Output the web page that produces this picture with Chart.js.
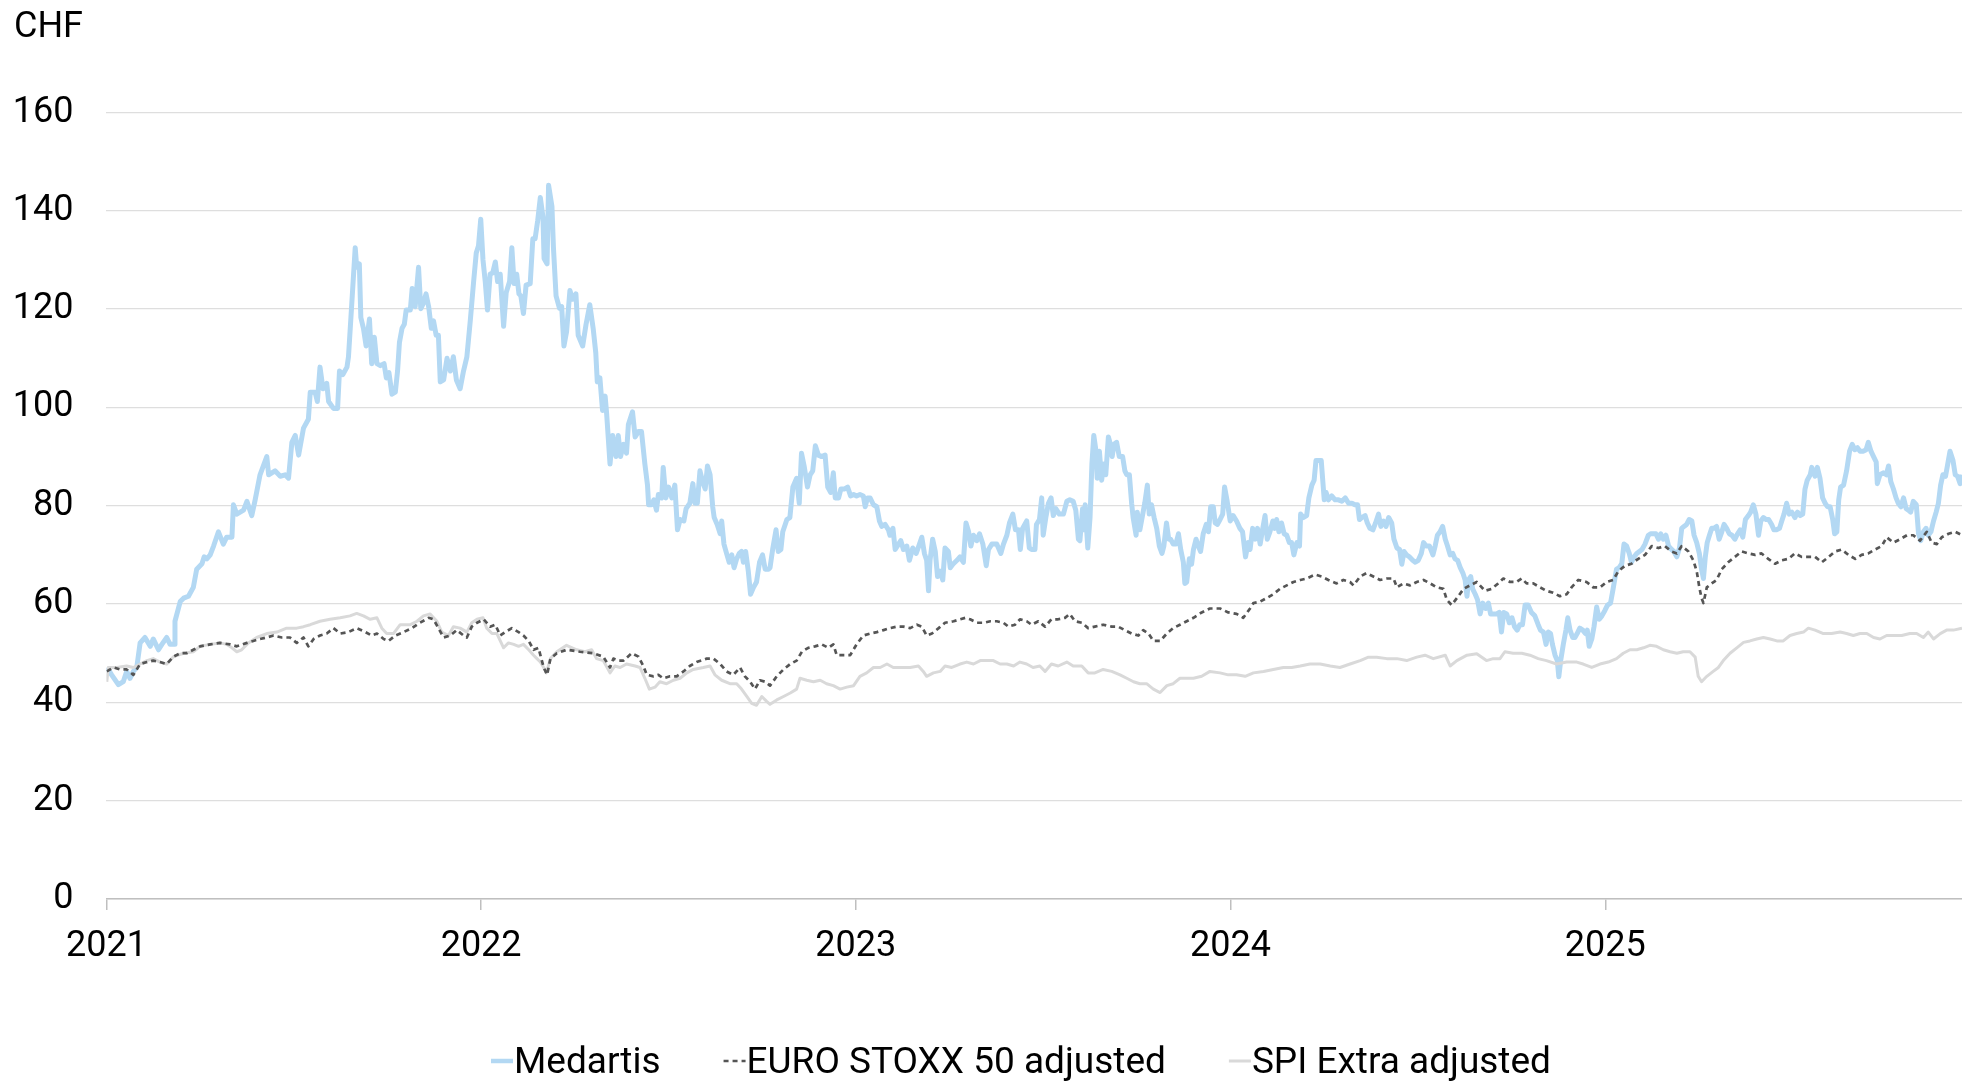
<!DOCTYPE html>
<html><head><meta charset="utf-8">
<script src="https://cdn.jsdelivr.net/npm/chart.js@4.4.1/dist/chart.umd.min.js"></script>
<style>html,body{margin:0;padding:0;background:#fff;overflow:hidden}canvas{display:block}</style>
</head><body>
<canvas id="c" width="1962" height="1081"></canvas>
<script>
const seriesNames = ['Medartis', 'EURO STOXX 50 adjusted', 'SPI Extra adjusted'];
const unitLabel = 'CHF';
const yMin = 0, yMax = 160, yStep = 20;
const xStart = 2021, xEnd = 2025.952;

// [decimal year, CHF]
const medartis = [
[2021.001,46.3],[2021.005,46.7],[2021.014,45.6],[2021.032,43.6],[2021.045,44.2],[2021.054,46.3],[2021.063,44.9],[2021.072,46.3],[2021.081,47.1],[2021.090,52.1],[2021.103,53.2],[2021.117,51.4],[2021.125,52.9],[2021.139,50.7],[2021.148,51.8],[2021.161,53.2],[2021.170,51.8],[2021.181,51.8],[2021.183,56.5],[2021.197,60.5],[2021.206,61.2],[2021.219,61.6],[2021.232,63.4],[2021.241,67.1],[2021.255,68.2],[2021.261,69.6],[2021.268,69.2],[2021.277,70.0],[2021.286,71.8],[2021.299,74.7],[2021.312,72.2],[2021.321,73.6],[2021.335,73.6],[2021.339,80.2],[2021.348,78.3],[2021.366,79.1],[2021.375,80.9],[2021.388,78.0],[2021.397,81.2],[2021.410,86.3],[2021.428,90.0],[2021.433,86.3],[2021.450,87.1],[2021.464,86.0],[2021.477,86.3],[2021.486,85.6],[2021.495,92.9],[2021.504,94.3],[2021.513,90.3],[2021.526,95.8],[2021.539,97.6],[2021.544,103.1],[2021.557,103.1],[2021.563,101.2],[2021.570,108.2],[2021.578,103.8],[2021.588,104.9],[2021.593,101.2],[2021.606,99.8],[2021.617,99.8],[2021.622,107.4],[2021.631,106.7],[2021.642,108.2],[2021.646,110.3],[2021.652,117.6],[2021.659,126.3],[2021.664,132.5],[2021.668,128.5],[2021.675,129.2],[2021.679,118.3],[2021.686,116.1],[2021.693,112.5],[2021.702,118.0],[2021.708,108.9],[2021.715,114.3],[2021.722,108.9],[2021.731,108.5],[2021.741,108.9],[2021.747,106.0],[2021.754,107.1],[2021.762,102.7],[2021.771,103.1],[2021.777,107.4],[2021.782,113.2],[2021.789,116.1],[2021.795,116.9],[2021.800,119.8],[2021.811,119.8],[2021.816,124.2],[2021.824,120.5],[2021.833,128.5],[2021.839,120.1],[2021.846,121.2],[2021.853,123.1],[2021.860,120.5],[2021.867,116.1],[2021.873,117.6],[2021.880,114.7],[2021.886,114.7],[2021.891,105.2],[2021.900,105.6],[2021.909,110.0],[2021.918,107.4],[2021.926,110.3],[2021.934,105.6],[2021.944,103.8],[2021.953,107.4],[2021.962,110.3],[2021.971,117.6],[2021.980,125.6],[2021.987,131.4],[2021.993,132.9],[2021.999,138.3],[2022.005,130.0],[2022.011,125.6],[2022.017,119.8],[2022.024,127.1],[2022.031,127.4],[2022.038,129.6],[2022.044,125.6],[2022.051,127.1],[2022.060,116.5],[2022.067,123.4],[2022.076,125.6],[2022.082,132.5],[2022.088,125.2],[2022.095,127.1],[2022.101,123.1],[2022.106,122.7],[2022.113,119.1],[2022.120,124.9],[2022.131,125.2],[2022.138,134.3],[2022.144,134.3],[2022.151,138.0],[2022.158,142.7],[2022.165,138.7],[2022.168,130.3],[2022.176,129.2],[2022.180,145.2],[2022.189,140.9],[2022.193,132.5],[2022.200,122.7],[2022.209,120.2],
[2022.215,120.5],[2022.221,112.5],[2022.228,115.4],[2022.237,123.8],[2022.244,122.0],[2022.253,123.1],[2022.259,114.7],[2022.271,112.5],[2022.280,116.9],[2022.290,120.9],[2022.299,116.1],[2022.306,111.1],[2022.310,105.2],[2022.317,106.0],[2022.324,99.4],[2022.331,102.3],[2022.335,98.7],[2022.344,88.5],[2022.351,94.3],[2022.360,90.0],[2022.366,94.3],[2022.372,90.0],[2022.380,92.5],[2022.388,90.7],[2022.393,96.5],[2022.404,99.1],[2022.411,94.0],[2022.420,95.1],[2022.428,95.1],[2022.437,88.5],[2022.444,84.2],[2022.447,80.2],[2022.455,80.2],[2022.461,81.2],[2022.468,79.1],[2022.473,82.3],[2022.482,81.6],[2022.486,87.8],[2022.493,81.6],[2022.500,83.8],[2022.509,81.6],[2022.517,84.2],[2022.524,75.1],[2022.531,77.2],[2022.541,76.9],[2022.547,79.4],[2022.557,80.5],[2022.565,84.5],[2022.571,80.5],[2022.577,80.5],[2022.584,87.1],[2022.591,84.9],[2022.598,83.4],[2022.604,88.1],[2022.611,86.3],[2022.618,79.8],[2022.622,77.6],[2022.630,76.2],[2022.638,74.3],[2022.642,76.9],[2022.648,72.2],[2022.655,70.3],[2022.662,68.5],[2022.669,70.0],[2022.675,67.4],[2022.682,69.2],[2022.689,70.3],[2022.695,70.7],[2022.700,68.5],[2022.706,70.7],[2022.713,66.7],[2022.719,62.0],[2022.727,63.4],[2022.735,64.5],[2022.743,68.5],[2022.751,70.0],[2022.758,67.1],[2022.767,67.1],[2022.771,67.4],[2022.778,71.1],[2022.787,75.1],[2022.793,70.7],[2022.800,71.1],[2022.805,74.7],[2022.816,77.2],[2022.824,77.6],[2022.832,83.8],[2022.842,85.6],[2022.849,80.5],[2022.855,90.7],[2022.862,88.1],[2022.871,83.8],[2022.878,86.3],[2022.885,87.1],[2022.892,92.2],[2022.900,90.3],[2022.909,90.0],[2022.918,90.3],[2022.925,83.8],[2022.933,82.7],[2022.940,86.7],[2022.945,81.6],[2022.954,81.6],[2022.960,83.4],[2022.969,83.4],[2022.978,83.8],[2022.986,82.0],[2022.994,82.3],[2023.002,82.0],[2023.011,82.3],[2023.020,82.0],[2023.025,79.8],[2023.031,81.6],[2023.038,81.6],[2023.047,80.2],[2023.056,79.8],[2023.063,76.9],[2023.069,75.8],[2023.078,76.2],[2023.087,75.1],[2023.091,74.0],[2023.099,75.4],[2023.105,71.1],[2023.114,72.2],[2023.120,72.9],[2023.127,71.1],[2023.136,71.8],[2023.143,68.9],[2023.152,71.4],[2023.161,70.3],[2023.168,71.8],[2023.176,73.6],[2023.183,70.3],[2023.189,68.9],[2023.194,62.7],[2023.198,68.9],[2023.205,73.2],[2023.212,70.7],[2023.218,65.6],[2023.225,66.7],[2023.232,64.9],[2023.238,71.4],[2023.247,70.7],[2023.252,67.4],[2023.259,68.1],[2023.270,68.9],[2023.278,69.6],[2023.287,68.5],[2023.294,76.5],[2023.301,74.7],[2023.307,71.8],[2023.314,74.0],[2023.323,72.9],[2023.330,74.3],[2023.339,72.2],[2023.348,67.8],[2023.354,71.1],[2023.363,72.2],[2023.376,72.2],[2023.387,70.3],[2023.394,72.2],[2023.403,74.0],[2023.410,76.5],[2023.419,78.3],[2023.426,75.1],[2023.434,75.1],[2023.439,71.1],
[2023.445,75.4],[2023.456,76.9],[2023.463,71.4],[2023.469,71.1],[2023.478,71.1],[2023.482,76.2],[2023.490,77.2],[2023.496,81.6],[2023.500,74.0],[2023.507,77.6],[2023.514,80.5],[2023.521,81.6],[2023.527,78.0],[2023.534,79.4],[2023.543,78.3],[2023.554,78.3],[2023.563,80.9],[2023.571,81.2],[2023.580,80.9],[2023.587,79.1],[2023.594,73.2],[2023.598,72.9],[2023.605,79.4],[2023.609,75.1],[2023.612,80.2],[2023.619,71.4],[2023.625,77.6],[2023.630,88.5],[2023.635,94.3],[2023.641,91.1],[2023.644,85.6],[2023.650,91.1],[2023.656,85.2],[2023.662,88.5],[2023.667,86.3],[2023.674,94.0],[2023.678,92.9],[2023.684,90.0],[2023.689,92.5],[2023.696,92.9],[2023.703,90.0],[2023.712,90.0],[2023.718,87.1],[2023.723,86.3],[2023.730,86.3],[2023.736,80.5],[2023.740,77.6],[2023.748,74.0],[2023.751,78.7],[2023.758,75.1],[2023.764,77.6],[2023.771,80.5],[2023.778,84.2],[2023.783,78.3],[2023.789,80.2],[2023.796,77.6],[2023.803,75.4],[2023.810,71.8],[2023.817,70.3],[2023.822,71.8],[2023.829,76.5],[2023.835,73.2],[2023.840,73.2],[2023.847,72.2],[2023.854,72.2],[2023.861,74.3],[2023.867,71.1],[2023.874,68.5],[2023.878,64.2],[2023.883,64.5],[2023.890,69.2],[2023.896,68.1],[2023.901,71.1],[2023.908,73.2],[2023.914,71.8],[2023.920,70.7],[2023.927,74.3],[2023.935,76.2],[2023.941,74.7],[2023.947,79.8],[2023.954,79.8],[2023.959,76.5],[2023.965,76.2],[2023.972,77.2],[2023.979,78.3],[2023.984,83.8],[2023.991,80.9],[2023.999,76.9],[2024.007,78.0],[2024.016,76.9],[2024.025,75.4],[2024.032,74.7],[2024.040,69.6],[2024.047,72.5],[2024.052,71.1],[2024.059,75.4],[2024.066,73.2],[2024.072,75.4],[2024.079,72.2],[2024.086,75.4],[2024.092,78.0],[2024.098,73.2],[2024.105,74.7],[2024.113,76.9],[2024.118,75.4],[2024.123,77.2],[2024.129,74.7],[2024.136,76.5],[2024.143,74.3],[2024.150,74.0],[2024.157,72.5],[2024.163,72.5],[2024.169,70.0],[2024.177,72.5],[2024.184,71.8],[2024.187,78.3],[2024.194,77.6],[2024.203,78.0],[2024.209,81.6],[2024.217,84.2],[2024.223,85.2],[2024.228,89.2],[2024.234,89.2],[2024.242,89.2],[2024.250,81.2],[2024.255,82.7],[2024.261,81.2],[2024.270,82.0],[2024.279,81.2],[2024.288,81.2],[2024.297,80.9],[2024.306,81.6],[2024.315,80.5],[2024.324,80.5],[2024.332,80.2],[2024.339,80.2],[2024.344,77.2],[2024.350,77.6],[2024.359,78.0],[2024.365,76.5],[2024.372,75.4],[2024.380,75.1],[2024.387,76.5],[2024.395,78.3],[2024.401,75.8],[2024.408,76.9],[2024.415,75.8],[2024.422,77.6],[2024.430,76.5],[2024.436,73.2],[2024.444,71.4],[2024.451,71.1],[2024.457,68.1],[2024.463,70.7],[2024.470,70.0],[2024.477,69.6],[2024.486,68.9],[2024.493,68.5],[2024.501,68.9],[2024.509,70.3],[2024.515,72.5],[2024.522,71.8],[2024.531,71.8],[2024.540,70.0],[2024.546,71.8],[2024.552,74.0],[2024.559,74.7],[2024.566,75.8],[2024.573,73.2],[2024.579,71.8],[2024.586,70.0],[2024.593,70.3],[2024.599,69.2],[2024.606,68.9],[2024.613,67.4],[2024.620,66.3],[2024.626,64.9],[2024.631,61.6],[2024.635,64.9],[2024.641,65.6],[2024.646,63.1],[2024.653,62.0],[2024.659,60.9],[2024.666,58.0],
[2024.673,60.2],[2024.681,59.1],[2024.688,60.2],[2024.694,58.0],[2024.701,58.0],[2024.710,58.0],[2024.717,58.3],[2024.723,54.3],[2024.729,58.3],[2024.737,58.0],[2024.744,56.2],[2024.751,57.2],[2024.758,55.4],[2024.765,54.7],[2024.772,55.8],[2024.779,55.8],[2024.786,59.8],[2024.794,59.8],[2024.803,58.3],[2024.812,57.6],[2024.821,55.8],[2024.827,54.7],[2024.835,54.3],[2024.842,51.8],[2024.848,54.3],[2024.854,54.0],[2024.859,51.8],[2024.866,49.6],[2024.872,48.5],[2024.876,45.2],[2024.881,48.5],[2024.888,51.8],[2024.895,54.7],[2024.900,57.2],[2024.906,54.7],[2024.913,53.2],[2024.919,53.2],[2024.925,54.0],[2024.932,55.1],[2024.940,54.7],[2024.947,54.0],[2024.952,54.7],[2024.957,51.4],[2024.964,52.9],[2024.970,55.4],[2024.977,59.4],[2024.984,56.9],[2024.991,57.6],[2024.999,58.7],[2025.006,59.8],[2025.014,60.2],[2025.021,63.1],[2025.030,67.1],[2025.037,67.4],[2025.044,68.2],[2025.050,72.2],[2025.057,71.8],[2025.064,70.3],[2025.070,68.5],[2025.077,69.6],[2025.084,70.3],[2025.091,70.7],[2025.098,71.1],[2025.106,72.2],[2025.115,74.0],[2025.121,74.3],[2025.128,74.3],[2025.135,74.3],[2025.142,73.2],[2025.148,74.3],[2025.155,73.2],[2025.162,74.0],[2025.169,71.8],[2025.177,71.1],[2025.183,70.7],[2025.191,69.6],[2025.198,71.4],[2025.204,75.4],[2025.210,75.8],[2025.217,76.2],[2025.224,77.2],[2025.231,76.9],[2025.237,74.0],[2025.244,72.5],[2025.251,70.3],[2025.257,67.1],[2025.262,65.2],[2025.267,69.6],[2025.272,72.5],[2025.278,74.0],[2025.284,75.4],[2025.290,75.4],[2025.297,75.8],[2025.304,73.2],[2025.311,74.7],[2025.317,76.2],[2025.324,75.4],[2025.331,74.3],[2025.338,74.0],[2025.346,73.2],[2025.353,74.3],[2025.360,75.1],[2025.367,73.6],[2025.374,77.2],[2025.382,78.0],[2025.388,78.7],[2025.395,80.2],[2025.402,78.3],[2025.409,74.0],[2025.415,76.9],[2025.422,77.6],[2025.429,77.2],[2025.436,77.2],[2025.444,76.2],[2025.450,75.1],[2025.457,75.1],[2025.465,75.4],[2025.471,76.9],[2025.477,78.3],[2025.484,80.5],[2025.491,78.3],[2025.498,78.7],[2025.506,77.6],[2025.513,78.7],[2025.520,78.0],[2025.527,78.3],[2025.533,83.4],[2025.539,85.2],[2025.547,86.3],[2025.551,87.8],[2025.560,86.0],[2025.566,87.8],[2025.573,85.6],[2025.580,81.6],[2025.587,80.5],[2025.593,79.8],[2025.600,79.8],[2025.607,77.2],[2025.612,74.3],[2025.618,74.7],[2025.623,81.2],[2025.628,83.8],[2025.636,84.2],[2025.644,87.1],[2025.652,91.1],[2025.659,92.5],[2025.666,91.4],[2025.673,91.8],[2025.680,91.1],[2025.689,91.1],[2025.696,91.4],[2025.702,92.9],[2025.709,91.1],[2025.716,90.0],[2025.723,88.9],[2025.726,84.5],[2025.733,86.3],[2025.742,86.7],[2025.750,86.3],[2025.756,88.1],[2025.762,84.9],[2025.769,83.4],[2025.776,81.6],[2025.782,80.5],[2025.789,79.8],[2025.796,81.6],[2025.803,79.4],[2025.809,79.1],[2025.815,78.7],[2025.822,80.9],[2025.830,80.2],[2025.836,74.3],[2025.842,72.9],[2025.849,74.7],[2025.856,75.4],[2025.862,74.0],[2025.869,74.7],[2025.876,76.9],[2025.883,78.7],[2025.889,80.5],[2025.895,84.2],[2025.901,86.3],[2025.908,86.0],[2025.913,88.1],[2025.920,91.1],[2025.928,89.2],[2025.934,86.3],[2025.940,86.0],[2025.947,84.5],[2025.952,86.3]
];

const euroStoxx = [
[2021.001,46.3],[2021.019,47.1],[2021.036,46.7],[2021.054,46.7],[2021.072,45.6],[2021.090,47.8],[2021.108,48.2],[2021.125,48.5],[2021.143,48.2],[2021.161,47.8],[2021.179,49.3],[2021.197,50.0],[2021.214,50.0],[2021.232,50.7],[2021.250,51.4],[2021.277,51.8],[2021.303,52.1],[2021.330,51.8],[2021.348,51.4],[2021.375,52.1],[2021.392,52.5],[2021.410,52.9],[2021.428,53.2],[2021.446,53.6],[2021.468,53.2],[2021.490,53.2],[2021.508,52.1],[2021.526,53.2],[2021.539,51.4],[2021.553,52.9],[2021.570,53.6],[2021.588,54.0],[2021.606,55.1],[2021.624,54.0],[2021.646,54.3],[2021.668,55.1],[2021.691,54.3],[2021.708,53.6],[2021.722,54.0],[2021.740,52.9],[2021.753,52.5],[2021.771,53.6],[2021.793,54.3],[2021.815,55.1],[2021.837,56.2],[2021.860,57.2],[2021.873,56.9],[2021.886,55.1],[2021.900,53.2],[2021.918,53.6],[2021.935,54.7],[2021.953,53.6],[2021.962,53.2],[2021.975,55.4],[2021.989,56.2],[2022.007,56.9],[2022.024,55.4],[2022.038,55.8],[2022.051,53.6],[2022.064,54.3],[2022.082,55.1],[2022.100,54.3],[2022.113,53.6],[2022.127,52.5],[2022.140,50.7],[2022.153,51.1],[2022.167,47.1],[2022.176,45.6],[2022.185,48.9],[2022.202,50.0],
[2022.228,50.7],[2022.264,50.3],[2022.299,50.0],[2022.326,49.3],[2022.344,47.1],[2022.353,48.9],[2022.366,48.5],[2022.380,48.5],[2022.402,50.0],[2022.420,49.3],[2022.433,47.4],[2022.442,45.6],[2022.460,45.3],[2022.473,45.6],[2022.486,44.9],[2022.504,45.3],[2022.522,45.3],[2022.540,46.3],[2022.557,47.4],[2022.575,48.2],[2022.602,48.9],[2022.620,48.9],[2022.638,47.8],[2022.655,46.3],[2022.673,45.6],[2022.691,47.1],[2022.704,45.3],[2022.718,44.2],[2022.731,42.7],[2022.744,44.5],[2022.758,44.2],[2022.771,43.4],[2022.789,45.3],[2022.807,46.7],[2022.825,47.8],[2022.842,48.5],[2022.856,50.3],[2022.873,51.1],[2022.891,51.4],[2022.909,51.8],[2022.927,51.1],[2022.940,51.8],[2022.949,49.6],[2022.967,49.6],[2022.985,49.6],[2023.002,51.8],[2023.020,53.6],[2023.038,54.0],[2023.056,54.3],[2023.074,54.7],[2023.091,55.1],[2023.109,55.4],[2023.127,55.4],[2023.145,55.1],[2023.163,55.8],[2023.176,55.4],[2023.189,53.6],[2023.203,54.0],[2023.221,55.1],[2023.238,56.2],[2023.261,56.5],[2023.278,56.9],[2023.292,57.2],[2023.305,56.9],[2023.323,56.2],[2023.341,56.2],[2023.359,56.5],[2023.376,56.5],[2023.394,56.2],[2023.407,55.4],[2023.425,55.8],
[2023.438,56.9],[2023.456,56.5],[2023.469,55.8],[2023.487,56.5],[2023.505,55.4],[2023.522,56.9],[2023.540,56.9],[2023.558,57.2],[2023.571,58.0],[2023.585,56.5],[2023.603,56.2],[2023.620,55.1],[2023.638,55.4],[2023.660,55.8],[2023.683,55.4],[2023.700,55.4],[2023.718,54.7],[2023.736,54.0],[2023.754,53.6],[2023.767,54.7],[2023.781,54.0],[2023.794,52.5],[2023.812,52.5],[2023.830,54.0],[2023.847,55.1],[2023.865,55.8],[2023.883,56.5],[2023.901,57.2],[2023.923,58.3],[2023.945,59.1],[2023.972,59.1],[2023.994,58.3],[2024.016,58.0],[2024.034,57.2],[2024.052,59.1],[2024.061,60.2],[2024.079,60.5],[2024.096,61.2],[2024.114,62.0],[2024.132,63.1],[2024.150,63.8],[2024.168,64.5],[2024.186,64.9],[2024.203,65.2],[2024.226,66.0],[2024.243,65.6],[2024.261,64.9],[2024.283,64.2],[2024.301,64.9],[2024.319,64.5],[2024.328,63.8],[2024.346,65.6],[2024.363,66.3],[2024.381,65.6],[2024.399,64.9],[2024.417,65.2],[2024.435,65.2],[2024.444,63.4],[2024.461,64.2],[2024.479,63.8],[2024.497,64.5],[2024.515,64.9],[2024.533,64.2],[2024.550,63.4],[2024.568,63.1],[2024.577,60.9],[2024.590,59.8],[2024.604,61.2],[2024.622,63.1],[2024.639,63.8],[2024.657,64.5],
[2024.679,62.7],[2024.697,63.1],[2024.714,64.2],[2024.728,65.2],[2024.746,64.5],[2024.763,64.5],[2024.777,65.2],[2024.790,64.2],[2024.808,64.2],[2024.826,63.4],[2024.843,62.7],[2024.861,62.3],[2024.879,61.6],[2024.897,62.0],[2024.910,63.4],[2024.928,64.9],[2024.950,64.5],[2024.968,63.4],[2024.986,63.4],[2025.004,64.5],[2025.021,64.9],[2025.035,66.7],[2025.053,67.8],[2025.070,68.2],[2025.088,69.2],[2025.106,70.0],[2025.124,71.8],[2025.142,71.4],[2025.159,71.8],[2025.177,70.7],[2025.191,70.3],[2025.204,71.8],[2025.222,70.7],[2025.235,68.9],[2025.244,66.7],[2025.251,63.4],[2025.257,61.2],[2025.262,60.2],[2025.271,63.4],[2025.284,64.2],[2025.297,64.9],[2025.311,67.1],[2025.328,68.5],[2025.346,69.6],[2025.364,70.7],[2025.382,70.3],[2025.400,70.0],[2025.417,70.3],[2025.435,69.2],[2025.453,68.2],[2025.471,68.9],[2025.489,69.2],[2025.506,70.3],[2025.524,69.6],[2025.542,69.6],[2025.560,69.6],[2025.578,68.5],[2025.596,69.6],[2025.613,70.7],[2025.631,71.1],[2025.649,70.0],[2025.667,69.2],[2025.684,70.0],[2025.702,70.3],[2025.720,71.1],[2025.738,71.8],[2025.751,73.6],[2025.769,72.5],[2025.787,73.2],[2025.805,74.0],[2025.822,74.0],[2025.840,72.9],[2025.858,74.7],[2025.871,72.5],[2025.885,72.2],[2025.898,73.6],[2025.916,74.3],[2025.934,74.7],[2025.952,74.0]
];

const spiExtra = [
[2021.001,44.2],[2021.005,47.1],[2021.028,47.1],[2021.054,47.4],[2021.072,47.1],[2021.090,47.8],[2021.108,48.5],[2021.125,48.9],[2021.143,48.2],[2021.161,47.8],[2021.179,49.3],[2021.206,50.0],[2021.232,50.3],[2021.250,51.4],[2021.277,51.8],[2021.303,52.1],[2021.321,51.8],[2021.335,51.1],[2021.348,50.3],[2021.361,50.7],[2021.379,52.1],[2021.401,53.2],[2021.428,54.0],[2021.455,54.3],[2021.481,55.1],[2021.508,55.1],[2021.526,55.4],[2021.544,55.8],[2021.570,56.5],[2021.597,56.9],[2021.624,57.2],[2021.650,57.6],[2021.668,58.1],[2021.686,57.6],[2021.704,56.9],[2021.722,57.2],[2021.735,55.1],[2021.748,54.0],[2021.766,54.0],[2021.784,55.8],[2021.811,55.8],[2021.829,56.5],[2021.846,57.6],[2021.864,58.0],[2021.882,56.5],[2021.895,54.3],[2021.913,53.6],[2021.926,55.4],[2021.944,55.1],[2021.962,54.3],[2021.975,56.2],[2021.989,56.9],[2022.005,57.2],[2022.015,55.1],[2022.029,54.0],[2022.042,54.0],[2022.060,51.1],[2022.073,52.1],[2022.087,51.8],[2022.100,51.4],[2022.113,51.8],[2022.127,50.7],[2022.140,49.6],[2022.149,48.9],[2022.158,48.2],[2022.167,47.1],[2022.174,46.0],[2022.185,48.9],[2022.202,50.3],
[2022.228,51.6],[2022.255,50.7],[2022.277,50.3],[2022.295,50.7],[2022.308,48.9],[2022.326,48.5],[2022.344,46.0],[2022.357,47.4],[2022.371,47.1],[2022.388,47.8],[2022.411,47.4],[2022.424,47.1],[2022.437,44.9],[2022.449,42.7],[2022.464,43.1],[2022.477,44.2],[2022.495,43.8],[2022.513,44.5],[2022.531,44.9],[2022.549,46.0],[2022.566,46.7],[2022.593,47.1],[2022.611,47.4],[2022.624,45.6],[2022.642,44.5],[2022.664,43.8],[2022.682,43.8],[2022.695,42.7],[2022.709,41.2],[2022.722,39.8],[2022.735,39.4],[2022.749,41.2],[2022.762,40.2],[2022.771,39.6],[2022.789,40.5],[2022.807,41.2],[2022.825,41.9],[2022.842,42.7],[2022.851,44.9],[2022.869,44.5],[2022.887,44.2],[2022.905,44.5],[2022.922,43.8],[2022.940,43.4],[2022.958,42.7],[2022.976,43.1],[2022.994,43.4],[2023.011,45.3],[2023.029,46.0],[2023.047,47.1],[2023.065,47.1],[2023.083,47.8],[2023.100,47.1],[2023.118,47.1],[2023.145,47.1],[2023.167,47.4],[2023.180,46.3],[2023.189,45.3],[2023.207,46.0],[2023.225,46.3],[2023.238,47.4],[2023.256,47.1],[2023.278,47.8],[2023.296,48.2],[2023.314,47.8],[2023.332,48.5],[2023.350,48.5],[2023.367,48.5],[2023.385,47.8],[2023.403,47.8],[2023.421,47.4],
[2023.438,48.2],[2023.456,47.8],[2023.473,47.1],[2023.491,47.4],[2023.505,46.3],[2023.522,47.8],[2023.540,47.4],[2023.563,48.2],[2023.580,47.4],[2023.603,47.4],[2023.620,46.0],[2023.638,46.0],[2023.660,46.7],[2023.683,46.3],[2023.705,45.6],[2023.723,44.9],[2023.741,44.2],[2023.758,43.8],[2023.776,43.8],[2023.794,42.7],[2023.812,42.0],[2023.830,43.4],[2023.847,43.8],[2023.865,44.9],[2023.883,44.9],[2023.901,44.9],[2023.923,45.3],[2023.945,46.3],[2023.972,46.0],[2023.994,45.6],[2024.016,45.6],[2024.039,45.3],[2024.061,46.0],[2024.088,46.3],[2024.114,46.7],[2024.141,47.1],[2024.163,47.1],[2024.186,47.4],[2024.212,47.8],[2024.239,47.8],[2024.266,47.4],[2024.292,47.1],[2024.319,47.8],[2024.346,48.5],[2024.368,49.2],[2024.390,49.2],[2024.417,48.9],[2024.444,48.9],[2024.470,48.5],[2024.497,49.2],[2024.519,49.6],[2024.541,48.9],[2024.573,49.6],[2024.586,47.4],[2024.604,48.5],[2024.631,49.6],[2024.657,49.9],
[2024.683,48.5],[2024.701,48.9],[2024.719,48.9],[2024.732,50.3],[2024.754,50.0],[2024.777,50.0],[2024.799,49.6],[2024.821,48.9],[2024.843,48.5],[2024.870,47.8],[2024.897,48.2],[2024.924,48.2],[2024.941,47.8],[2024.964,47.1],[2024.986,47.8],[2025.008,48.2],[2025.030,48.9],[2025.048,50.0],[2025.066,50.7],[2025.084,50.7],[2025.102,51.1],[2025.119,51.6],[2025.137,51.4],[2025.155,50.7],[2025.173,50.3],[2025.191,50.0],[2025.208,50.3],[2025.226,50.3],[2025.240,49.2],[2025.248,45.3],[2025.257,44.2],[2025.271,45.3],[2025.288,46.3],[2025.302,47.1],[2025.315,48.5],[2025.333,50.0],[2025.351,51.1],[2025.369,52.2],[2025.386,52.5],[2025.404,52.9],[2025.422,53.2],[2025.440,52.9],[2025.458,52.5],[2025.475,52.5],[2025.493,53.6],[2025.511,54.0],[2025.529,54.3],[2025.542,55.1],[2025.560,54.7],[2025.582,54.0],[2025.604,54.0],[2025.627,54.3],[2025.644,54.0],[2025.662,53.6],[2025.680,54.0],[2025.698,54.0],[2025.716,53.2],[2025.733,52.9],[2025.751,53.6],[2025.769,53.6],[2025.791,53.6],[2025.813,54.0],[2025.831,54.0],[2025.849,53.2],[2025.862,54.3],[2025.876,52.9],[2025.894,54.0],[2025.911,54.7],[2025.929,54.7],[2025.952,55.1]
];

const toPoints = arr => arr.map(p => ({x: p[0], y: p[1]}));
const FONT = 'Roboto';

const overlay = {
  id: 'overlay',
  afterDraw(chart) {
    const ctx = chart.ctx;
    ctx.save();
    ctx.fillStyle = '#000';
    ctx.textAlign = 'left';
    ctx.textBaseline = 'alphabetic';
    ctx.font = '36px ' + FONT;
    ctx.fillText(unitLabel, 14, 37);
    ctx.font = '37px ' + FONT;
    let x = 491;
    const lineY = 1061, textY = 1073;
    chart.data.datasets.forEach(ds => {
      ctx.beginPath();
      ctx.strokeStyle = ds.borderColor;
      ctx.lineWidth = ds.legendWidth;
      ctx.setLineDash(ds.legendDash || []);
      ctx.moveTo(x, lineY);
      ctx.lineTo(x + 22, lineY);
      ctx.stroke();
      ctx.setLineDash([]);
      ctx.fillStyle = '#000';
      ctx.fillText(ds.label, x + 23, textY);
      x += 23 + ctx.measureText(ds.label).width + 63;
    });
    ctx.restore();
  }
};

new Chart(document.getElementById('c'), {
  type: 'line',
  data: {
    datasets: [
      { label: seriesNames[0], data: toPoints(medartis), borderColor: '#b3d8f3', borderWidth: 5, order: 2, legendWidth: 4.5 },
      { label: seriesNames[1], data: toPoints(euroStoxx), borderColor: '#555555', borderWidth: 2.7, borderDash: [5, 4], order: 0, legendWidth: 2.5, legendDash: [5, 4] },
      { label: seriesNames[2], data: toPoints(spiExtra), borderColor: '#d9d9d9', borderWidth: 3, order: 1, legendWidth: 3 }
    ]
  },
  options: {
    responsive: false,
    animation: false,
    devicePixelRatio: 1,
    elements: { point: { radius: 0 }, line: { tension: 0, borderJoinStyle: 'round', borderCapStyle: 'butt' } },
    layout: { padding: { top: 112.5, left: 0, right: 0, bottom: 0 } },
    plugins: { legend: { display: false }, title: { display: false }, tooltip: { enabled: false } },
    scales: {
      x: {
        type: 'linear', min: xStart, max: xEnd,
        afterFit: s => { s.height = 182; },
        border: { display: true, color: '#bfbfbf', width: 1.5 },
        grid: { display: true, drawOnChartArea: false, drawTicks: true, tickLength: 11, color: '#bfbfbf', lineWidth: 1.5 },
        ticks: { stepSize: 1, includeBounds: false, autoSkip: false, maxRotation: 0, padding: 15,
          color: '#000', font: { family: FONT, size: 36 },
          callback: v => String(Math.round(v)) }
      },
      y: {
        min: yMin, max: yMax,
        afterFit: s => { s.width = 106.4; },
        border: { display: false },
        grid: { color: '#dedede', lineWidth: 1.3, drawTicks: false },
        ticks: { stepSize: yStep, padding: 33, color: '#000', font: { family: FONT, size: 36 } }
      }
    }
  },
  plugins: [overlay]
});
</script>
</body></html>
